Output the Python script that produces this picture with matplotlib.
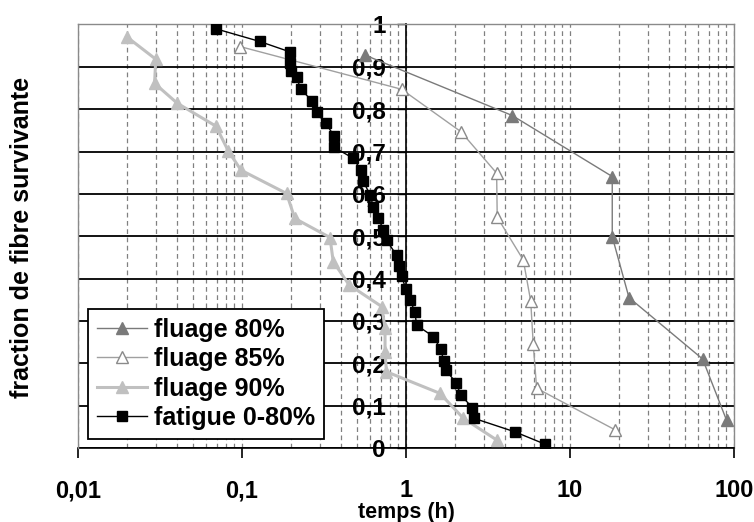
import numpy as np
import matplotlib
matplotlib.use("Agg")
import matplotlib.pyplot as plt

plt.rcParams['font.family'] = ['Liberation Sans', 'DejaVu Sans']
plt.rcParams['font.weight'] = 'bold'

# ---- data ----
f80_x = [0.56, 4.45, 18.1, 18.1, 22.9, 64.4, 90.2]
f80_y = [0.928, 0.785, 0.641, 0.499, 0.355, 0.21, 0.065]

f85_x = [0.097, 0.94, 2.16, 3.57, 3.6, 5.19, 5.76, 5.97, 6.26, 18.8]
f85_y = [0.948, 0.847, 0.747, 0.649, 0.545, 0.444, 0.347, 0.245, 0.141, 0.043]

f90_x = [0.0198, 0.0298, 0.0293, 0.0403, 0.0693, 0.0826, 0.0986, 0.187, 0.21,
         0.344, 0.36, 0.45, 0.711, 0.745, 0.745, 0.76, 1.61, 2.24, 3.57]
f90_y = [0.971, 0.918, 0.861, 0.814, 0.760, 0.701, 0.656, 0.601, 0.542,
         0.497, 0.44, 0.385, 0.334, 0.283, 0.227, 0.18, 0.129, 0.070, 0.019]

fat_x = [0.069, 0.128, 0.197, 0.197, 0.2, 0.215, 0.228, 0.266, 0.285, 0.324,
         0.364, 0.364, 0.477, 0.532, 0.549, 0.603, 0.632, 0.678, 0.727, 0.762,
         0.877, 0.91, 0.94, 1.0, 1.06, 1.135, 1.16, 1.47, 1.63, 1.70, 1.75,
         2.02, 2.16, 2.54, 2.60, 4.62, 7.04]
fat_y = [0.99, 0.96, 0.935, 0.91, 0.89, 0.875, 0.848, 0.82, 0.793, 0.767,
         0.737, 0.71, 0.684, 0.656, 0.63, 0.598, 0.57, 0.543, 0.515, 0.49,
         0.455, 0.43, 0.405, 0.375, 0.35, 0.32, 0.29, 0.263, 0.233, 0.205, 0.184,
         0.154, 0.125, 0.095, 0.07, 0.038, 0.009]

series_labels = ['fluage 80%', 'fluage 85%', 'fluage 90%', 'fatigue 0-80%']
x_ticks = [0.01, 0.1, 1, 10, 100]
x_tick_labels = ['0,01', '0,1', '1', '10', '100']
y_ticks = [0, 0.1, 0.2, 0.3, 0.4, 0.5, 0.6, 0.7, 0.8, 0.9, 1]
y_tick_labels = ['0', '0,1', '0,2', '0,3', '0,4', '0,5', '0,6', '0,7', '0,8', '0,9', '1']

# ---- figure ----
fig = plt.figure(figsize=(7.54, 5.22), dpi=100)
ax = fig.add_axes([0.10345, 0.1418, 0.870, 0.8113])
ax.set_xscale('log')
ax.set_xlim(0.01, 100)
ax.set_ylim(0, 1)
ax.set_axisbelow(True)

# grids
ax.set_xticks(x_ticks)
ax.set_xticklabels(x_tick_labels)
ax.xaxis.set_minor_locator(matplotlib.ticker.LogLocator(base=10, subs=np.arange(2, 10), numticks=20))
ax.xaxis.set_minor_formatter(matplotlib.ticker.NullFormatter())
ax.grid(axis='x', which='both', color='#808080', lw=0.9, linestyle=(0, (3.8, 2.8)))
ax.set_yticks(y_ticks)
ax.set_yticklabels(y_tick_labels)
ax.grid(axis='y', which='major', color='black', lw=1.3, linestyle='-')
gl = ax.yaxis.get_gridlines()
gl[-1].set_visible(False)
gl[0].set_visible(False)

# spines
ax.spines['left'].set_position(('data', 1))
ax.spines['left'].set_color('black')
ax.spines['left'].set_linewidth(1.2)
ax.spines['bottom'].set_color('black')
ax.spines['bottom'].set_linewidth(1.2)
for s in ('top', 'right'):
    ax.spines[s].set_color('#8a8a8a')
    ax.spines[s].set_linewidth(1.0)
ax.plot([0, 0], [0, 1], transform=ax.transAxes, color='#8a8a8a', lw=1.0,
        clip_on=False, zorder=2.6)

ax.tick_params(axis='x', which='major', direction='out', length=7.5, width=1.2,
               pad=15, labelsize=17, colors='black')
ax.tick_params(axis='x', which='minor', length=0)
ax.tick_params(axis='y', which='major', direction='out', length=6.5, width=1.0,
               pad=8, labelsize=17.5, colors='black')
for lbl in ax.get_xticklabels() + ax.get_yticklabels():
    lbl.set_fontweight('bold')

# data
ax.plot(f80_x, f80_y, color='#7a7a7a', lw=1.0, marker='^', ms=8,
        mfc='#7a7a7a', mec='#7a7a7a', zorder=3, label=series_labels[0])
ax.plot(f85_x, f85_y, color='#a0a0a0', lw=1.0, marker='^', ms=8,
        mfc='white', mec='#8a8a8a', mew=1.0, zorder=3, label=series_labels[1])
ax.plot(f90_x, f90_y, color='#c0c0c0', lw=2.2, marker='^', ms=8,
        mfc='#c0c0c0', mec='#c0c0c0', zorder=3, label=series_labels[2])
ax.plot(fat_x, fat_y, color='black', lw=1.0, marker='s', ms=7,
        mfc='black', mec='black', zorder=3.2, label=series_labels[3])

leg = ax.legend(loc='lower left', bbox_to_anchor=(0.0152, 0.0213), borderaxespad=0,
                frameon=True, fancybox=False, framealpha=1, edgecolor='black',
                prop={'size': 18, 'weight': 'bold'}, handlelength=2.0,
                handletextpad=0.3, labelspacing=0.22, borderpad=0.35)
leg.get_frame().set_linewidth(1.3)
leg.set_zorder(10)

fig.text(406 / 754, 1 - 518 / 522, 'temps (h)', ha='center', va='baseline',
         fontsize=15.5, fontweight='bold')
fig.text(22 / 754, 1 - 237 / 522, 'fraction de fibre survivante', ha='center',
         va='center', rotation=90, fontsize=18, fontweight='bold')

fig.savefig('out.png', dpi=100)
